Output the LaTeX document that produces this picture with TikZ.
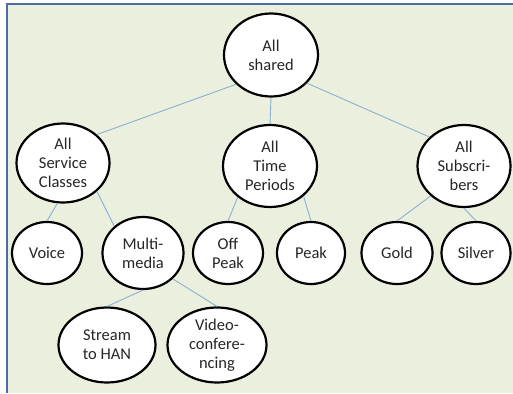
\documentclass[tikz,border=0pt]{standalone}
\usepackage{fontspec}
\setmainfont{Carlito}
\usetikzlibrary{shapes.geometric}
\definecolor{bgc}{HTML}{EBEFDE}
\definecolor{framec}{HTML}{4A6EA3}
\definecolor{linkc}{HTML}{8BAFD2}
\begin{document}
\begin{tikzpicture}[x=1pt,y=-1pt,
  ell/.style={draw=black,line width=2.2pt,fill=white,ellipse,inner sep=0pt,
    align=center,font=\fontsize{16.5}{19}\selectfont,text=black!85},
  link/.style={draw=linkc,line width=0.9pt}]
\useasboundingbox (0,0) rectangle (513,393);
\fill[white] (0,0) rectangle (513,393);
\fill[bgc] (6,4) rectangle (513,393);
\draw[framec,line width=2pt] (6.5,393) -- (6.5,4.5) -- (513,4.5);
% nodes
\node[ell,minimum width=94pt,minimum height=83pt] (root) at (271,55) {All\\shared};
\node[ell,minimum width=93pt,minimum height=79pt] (svc) at (63,163) {All\\Service\\Classes};
\node[ell,minimum width=94pt,minimum height=82pt] (time) at (270,166) {All\\Time\\Periods};
\node[ell,minimum width=93pt,minimum height=82pt] (sub) at (464,166) {All\\Subscri-\\bers};
\node[ell,minimum width=70pt,minimum height=62pt] (voice) at (47,253) {Voice};
\node[ell,minimum width=81pt,minimum height=72pt] (mm) at (143,253) {Multi-\\media};
\node[ell,minimum width=70pt,minimum height=62pt] (off) at (228,253) {Off\\Peak};
\node[ell,minimum width=68pt,minimum height=62pt] (peak) at (311,253) {Peak};
\node[ell,minimum width=71pt,minimum height=62pt] (gold) at (397,253) {Gold};
\node[ell,minimum width=69pt,minimum height=62pt] (silver) at (476,253) {Silver};
\node[ell,minimum width=97pt,minimum height=75pt] (han) at (107,345) {Stream\\to HAN};
\node[ell,minimum width=99pt,minimum height=75pt] (video) at (217,345) {Video-\\confere-\\ncing};
% connectors
\draw[link] (root.220) -- (svc.40);
\draw[link] (root.south) -- (time.north);
\draw[link] (root.322) -- (sub.140);
\draw[link] (svc.262) -- (voice.north);
\draw[link] (svc.320) -- (mm.137);
\draw[link] (time.224) -- (off.north);
\draw[link] (time.318) -- (peak.north);
\draw[link] (sub.222) -- (gold.north);
\draw[link] (sub.south) -- (silver.north);
\draw[link] (mm.south) -- (han.north);
\draw[link] (mm.319) -- (video.north);
\end{tikzpicture}
\end{document}
